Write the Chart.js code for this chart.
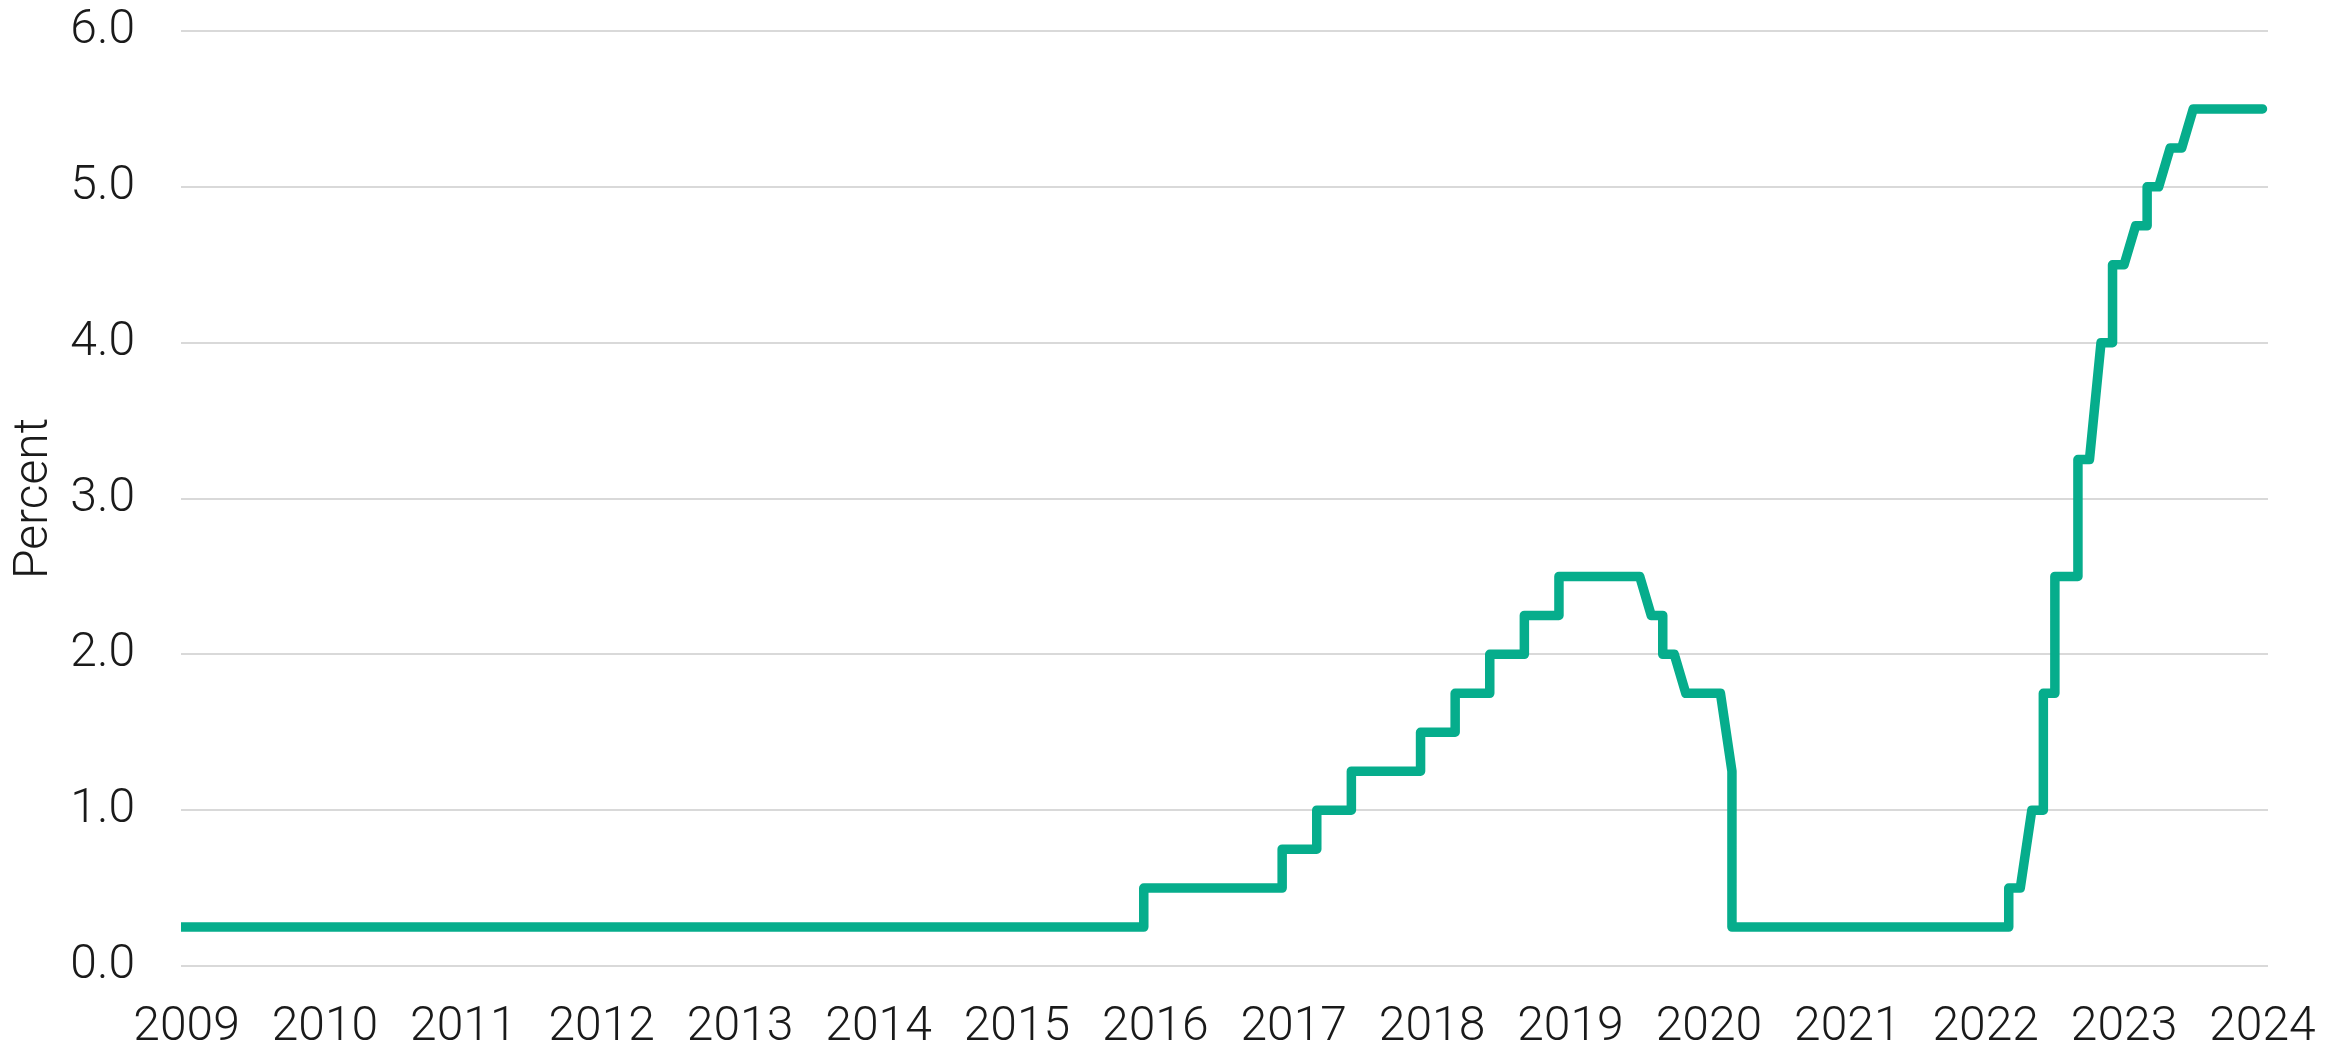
<!DOCTYPE html>
<html>
<head>
<meta charset="utf-8">
<script src="https://cdn.jsdelivr.net/npm/chart.js@4.4.1/dist/chart.umd.min.js"></script>
<style>
  html, body { margin: 0; padding: 0; background: #fff; }
  #rateChart { display: block; }
</style>
</head>
<body>
<canvas id="rateChart" width="2344" height="1049" style="width:2344px;height:1049px"></canvas>
<script>
// monthly points, a repeated month marks a step inside that month
const months = [
  '2008-12', '2015-12', '2015-12', '2016-12', '2016-12', '2017-03', '2017-03',
  '2017-06', '2017-06', '2017-12', '2017-12', '2018-03', '2018-03', '2018-06',
  '2018-06', '2018-09', '2018-09', '2018-12', '2018-12', '2019-07', '2019-08',
  '2019-09', '2019-09', '2019-10', '2019-11', '2020-02', '2020-03', '2020-03',
  '2022-03', '2022-03', '2022-04', '2022-05', '2022-06', '2022-06', '2022-07',
  '2022-07', '2022-09', '2022-09', '2022-10', '2022-11', '2022-12', '2022-12',
  '2023-01', '2023-02', '2023-03', '2023-03', '2023-04', '2023-05', '2023-06',
  '2023-07', '2024-01'
];
const rate = [
  0.25, 0.25, 0.50, 0.50, 0.75, 0.75, 1.00,
  1.00, 1.25, 1.25, 1.50, 1.50, 1.75, 1.75,
  2.00, 2.00, 2.25, 2.25, 2.50, 2.50, 2.25,
  2.25, 2.00, 2.00, 1.75, 1.75, 1.25, 0.25,
  0.25, 0.50, 0.50, 1.00, 1.00, 1.75, 1.75,
  2.50, 2.50, 3.25, 3.25, 4.00, 4.00, 4.50,
  4.50, 4.75, 4.75, 5.00, 5.00, 5.25, 5.25,
  5.50, 5.50
];
const yearTicks = [2009, 2010, 2011, 2012, 2013, 2014, 2015, 2016,
                   2017, 2018, 2019, 2020, 2021, 2022, 2023, 2024];
const percentTicks = [0, 1, 2, 3, 4, 5, 6];

const toYear = s => {
  const [y, m] = s.split('-').map(Number);
  return y + (m - 1) / 12;
};
const points = months.map((m, i) => ({ x: toYear(m), y: rate[i] }));

const labelFont = { family: 'Roboto', size: 48, weight: '300' };
const inkColor = '#1a1a1a';

new Chart(document.getElementById('rateChart'), {
  type: 'line',
  data: {
    datasets: [{
      data: points,
      borderColor: '#06ad8c',
      borderWidth: 9.5,
      borderJoinStyle: 'round',
      borderCapStyle: 'round',
      pointRadius: 0,
      tension: 0,
      fill: false,
      clip: { left: 0, top: false, right: false, bottom: false }
    }]
  },
  options: {
    responsive: false,
    animation: false,
    layout: { padding: { top: 31, right: 76, bottom: 0, left: 0 } },
    plugins: {
      legend: { display: false },
      tooltip: { enabled: false }
    },
    scales: {
      x: {
        type: 'linear',
        min: 2008.96,
        max: 2024.04,
        afterBuildTicks: scale => { scale.ticks = yearTicks.map(v => ({ value: v })); },
        afterFit: scale => {
          scale.height = 83;
          scale.paddingLeft = 0;
          scale.paddingRight = 0;
        },
        grid: { display: false, drawTicks: false },
        border: { display: false },
        ticks: {
          color: inkColor,
          font: labelFont,
          padding: 33,
          maxRotation: 0,
          autoSkip: false,
          callback: v => String(v)
        }
      },
      y: {
        min: 0,
        max: 6,
        afterBuildTicks: scale => { scale.ticks = percentTicks.map(v => ({ value: v })); },
        afterFit: scale => {
          scale.width = 181;
          scale.paddingTop = 0;
          scale.paddingBottom = 0;
        },
        grid: { color: '#d9d9d9', lineWidth: 2, drawTicks: false },
        border: { display: false },
        ticks: {
          color: inkColor,
          font: labelFont,
          padding: 46,
          callback: v => v.toFixed(1)
        },
        title: {
          display: true,
          text: 'Percent',
          color: inkColor,
          font: { family: 'Roboto', size: 48, weight: '300', lineHeight: 1 },
          padding: { top: 11, bottom: 0 }
        }
      }
    }
  }
});
</script>
</body>
</html>
